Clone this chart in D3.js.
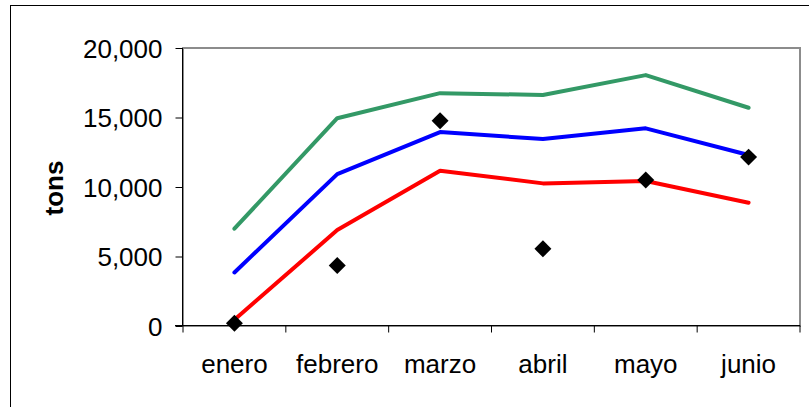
<!DOCTYPE html>
<html>
<head>
<meta charset="utf-8">
<script src="https://cdn.jsdelivr.net/npm/d3@7"></script>
<style>
  body { margin: 0; background: #fff; }
  text { font-family: "Liberation Sans", Arial, sans-serif; fill: #000; }
</style>
</head>
<body>
<div id="chart"></div>
<script>
const width = 809;
const height = 407;

// datos
const meses = ['enero', 'febrero', 'marzo', 'abril', 'mayo', 'junio'];
const serieVerde = [7000, 14950, 16750, 16620, 18050, 15700];
const serieAzul = [3850, 10930, 13950, 13450, 14220, 12300];
const serieRoja = [450, 6900, 11170, 10260, 10430, 8870];
const puntos = [200, 4350, 14770, 5550, 10500, 12150];
const ticksY = [0, 5000, 10000, 15000, 20000];

const plot = { left: 183, right: 800, top: 48, bottom: 326 };

const svg = d3.select('#chart')
  .append('svg')
  .attr('width', width)
  .attr('height', height);

// marco exterior
svg.append('rect')
  .attr('x', 10.5)
  .attr('y', 5.5)
  .attr('width', 830)
  .attr('height', 430)
  .attr('fill', 'white')
  .attr('stroke', 'black')
  .attr('stroke-width', 1);

const x = d3.scaleBand()
  .domain(meses)
  .range([plot.left, plot.right])
  .padding(0);

const y = d3.scaleLinear()
  .domain([0, 20000])
  .range([plot.bottom, plot.top]);

// borde del area de trazado
svg.append('rect')
  .attr('x', plot.left)
  .attr('y', plot.top)
  .attr('width', plot.right - plot.left)
  .attr('height', plot.bottom - plot.top)
  .attr('fill', 'none')
  .attr('stroke', '#8c8c8c')
  .attr('stroke-width', 2);

// eje Y
const yAxis = svg.append('g')
  .attr('transform', `translate(${plot.left - 0.5},0)`)
  .call(d3.axisLeft(y).tickValues(ticksY).tickSize(7).tickPadding(13).tickFormat(d3.format(',')));

yAxis.select('.domain').attr('stroke', 'black').attr('stroke-width', 1)
  .attr('d', `M0,${plot.top}V${plot.bottom}`);
yAxis.selectAll('.tick line').attr('stroke', 'black');
yAxis.selectAll('.tick text')
  .attr('font-size', 26)
  .attr('font-family', '"Liberation Sans", Arial, sans-serif')
  .attr('dy', '0.36em');

// eje X
const xAxis = svg.append('g')
  .attr('transform', `translate(0,${plot.bottom - 0.5})`)
  .call(d3.axisBottom(x).tickSize(0).tickPadding(0));

xAxis.select('.domain').attr('stroke', 'black').attr('stroke-width', 1)
  .attr('d', `M${plot.left - 8},0H${plot.right}`);
xAxis.selectAll('.tick text')
  .attr('font-size', 26)
  .attr('font-family', '"Liberation Sans", Arial, sans-serif')
  .attr('y', 47)
  .attr('dy', 0);

// marcas entre categorias
const bordes = meses.map(m => x(m)).concat([x.range()[1]]);
xAxis.selectAll('.sep')
  .data(bordes)
  .enter()
  .append('line')
  .attr('class', 'sep')
  .attr('x1', d => d)
  .attr('x2', d => d)
  .attr('y1', 0)
  .attr('y2', 7)
  .attr('stroke', 'black');

// titulo eje Y
svg.append('text')
  .attr('transform', `translate(63, 188) rotate(-90)`)
  .attr('text-anchor', 'middle')
  .attr('font-size', 26)
  .attr('font-weight', 'bold')
  .text('tons');

// lineas
const linea = d3.line()
  .x((d, i) => x(meses[i]) + x.bandwidth() / 2)
  .y(d => y(d));

const series = [
  { valores: serieVerde, color: '#339966' },
  { valores: serieAzul, color: '#0000ff' },
  { valores: serieRoja, color: '#ff0000' }
];

svg.selectAll('.serie')
  .data(series)
  .enter()
  .append('path')
  .attr('class', 'serie')
  .attr('d', d => linea(d.valores))
  .attr('fill', 'none')
  .attr('stroke', d => d.color)
  .attr('stroke-width', 4)
  .attr('stroke-linejoin', 'round')
  .attr('stroke-linecap', 'round');

// rombos
const rombo = d3.symbol().type(d3.symbolSquare).size(144);

svg.selectAll('.punto')
  .data(puntos)
  .enter()
  .append('path')
  .attr('class', 'punto')
  .attr('d', rombo)
  .attr('fill', 'black')
  .attr('transform', (d, i) => `translate(${x(meses[i]) + x.bandwidth() / 2},${y(d)}) rotate(45)`);
</script>
</body>
</html>
